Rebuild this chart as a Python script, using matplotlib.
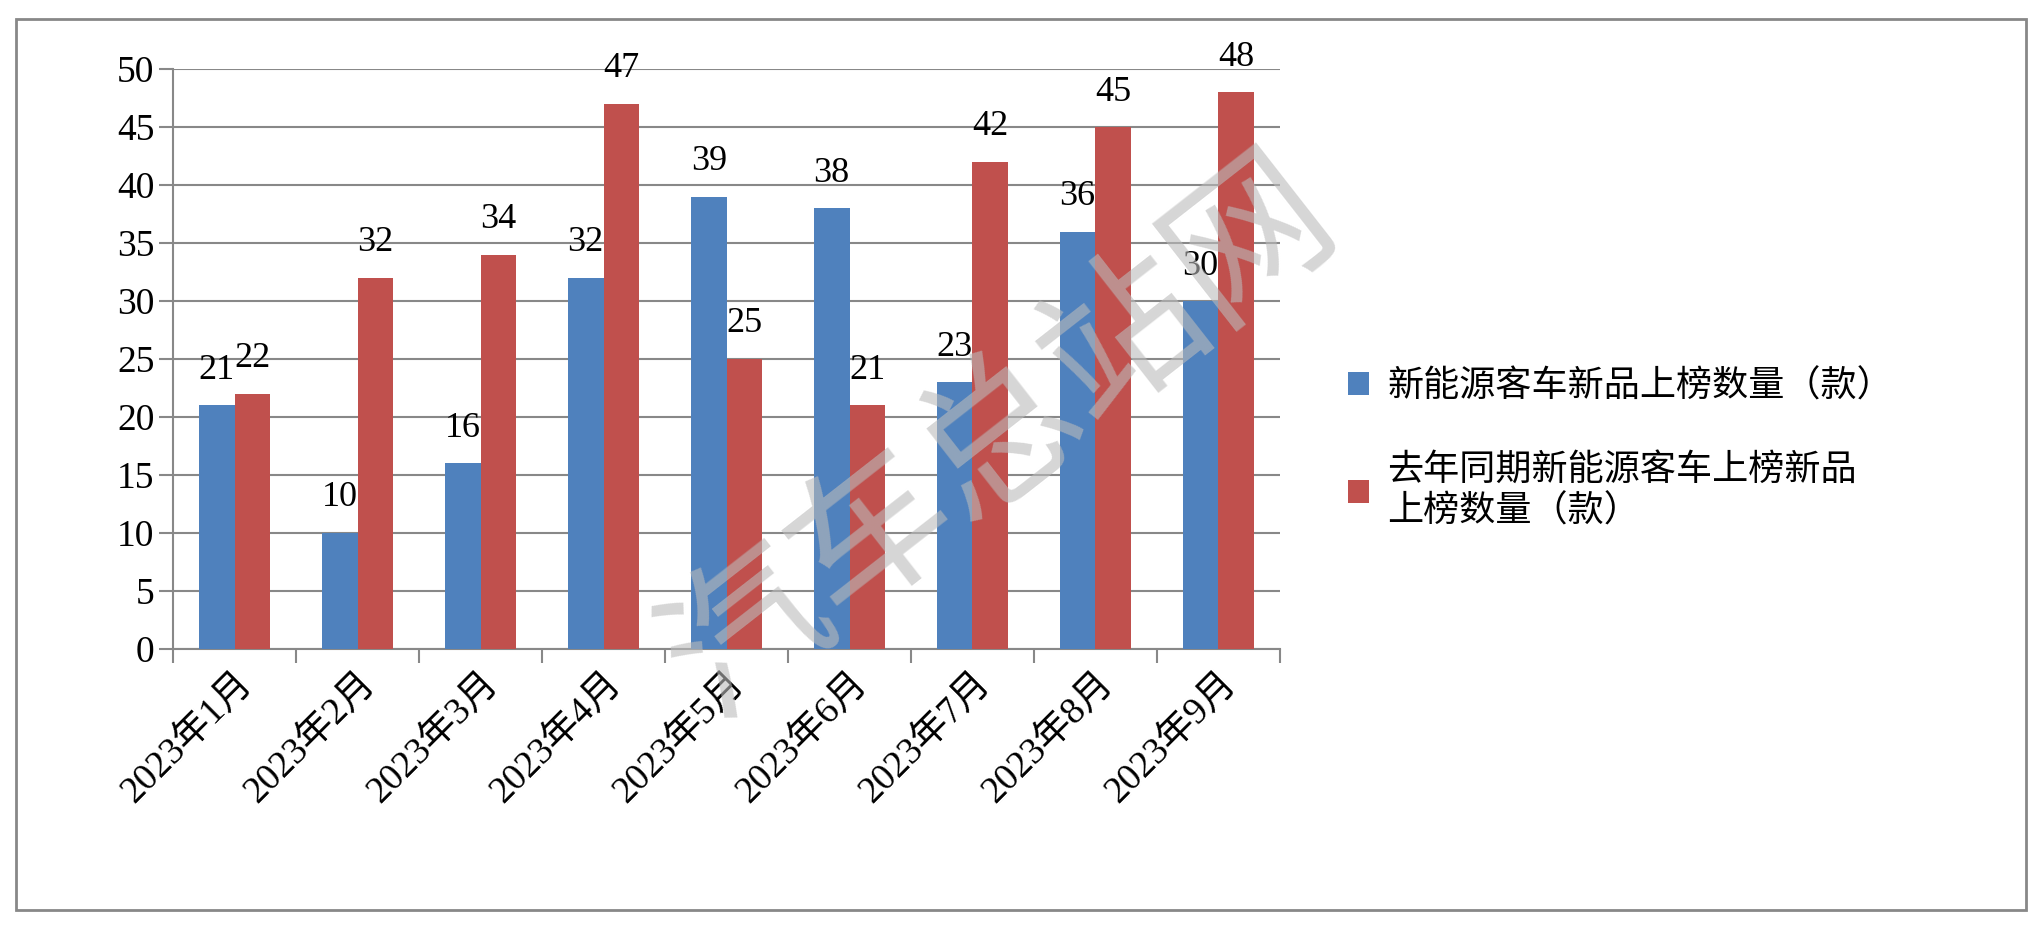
import numpy as np
import matplotlib.pyplot as plt
from matplotlib.patches import Rectangle

plt.rcParams["font.family"] = ["Liberation Serif", "Noto Sans CJK SC"]

months = ["2023年1月", "2023年2月", "2023年3月", "2023年4月", "2023年5月",
          "2023年6月", "2023年7月", "2023年8月", "2023年9月"]
new_2023 = [21, 10, 16, 32, 39, 38, 23, 36, 30]
last_year = [22, 32, 34, 47, 25, 21, 42, 45, 48]
labels = ["新能源客车新品上榜数量（款）", "去年同期新能源客车上榜新品\n上榜数量（款）"]

blue = "#4f81bd"
red = "#c0504d"

fig = plt.figure(figsize=(20.42, 9.35), dpi=100)
fig.patches.append(Rectangle((0.008, 0.027), 0.984, 0.953, transform=fig.transFigure,
                             fill=False, edgecolor="#888888", linewidth=2))
ax = fig.add_axes([0.0848, 0.306, 0.542, 0.62])

x = np.arange(len(months))
w = 0.29
b1 = ax.bar(x - w / 2, new_2023, w, color=blue, label=labels[0], zorder=3)
b2 = ax.bar(x + w / 2, last_year, w, color=red, label=labels[1], zorder=3)
for bars, vals in ((b1, new_2023), (b2, last_year)):
    for r, v in zip(bars, vals):
        ax.text(r.get_x() + r.get_width() / 2, v + 1.6, str(v), ha="center",
                va="bottom", fontsize=26, zorder=5)

ax.set_xlim(-0.5, len(months) - 0.5)
ax.set_ylim(0, 50)
ax.set_yticks(range(0, 51, 5))
ax.yaxis.grid(True, color="#888888", linewidth=1.5, zorder=0)
ax.set_xticks(np.arange(-0.5, len(months)), minor=False)
ax.set_xticklabels([])
ax.set_xticks(x, minor=True)
ax.set_xticklabels(months, minor=True, rotation=45, ha="right", rotation_mode="anchor",
                   fontsize=27)
ax.tick_params(axis="x", which="minor", length=0, pad=12)
ax.tick_params(axis="x", which="major", length=10, width=1.5, color="#888888")
ax.tick_params(axis="y", length=10, width=1.5, color="#888888", labelsize=27)
for s in ["top", "right"]:
    ax.spines[s].set_visible(False)
for s in ["left", "bottom"]:
    ax.spines[s].set_color("#888888")
    ax.spines[s].set_linewidth(1.5)

fig.legend(loc="center left", bbox_to_anchor=(0.644, 0.52), frameon=False,
           handlelength=0.6, handleheight=0.6, handletextpad=0.5, labelspacing=1.3,
           prop={"family": "Noto Sans CJK SC", "size": 26})

fig.text(0.49, 0.53, "汽车总站网", rotation=38, fontsize=115, color="#bbbbbb",
         alpha=0.6, ha="center", va="center", family="Noto Sans CJK SC", zorder=10)

fig.savefig("out.png", dpi=100)
